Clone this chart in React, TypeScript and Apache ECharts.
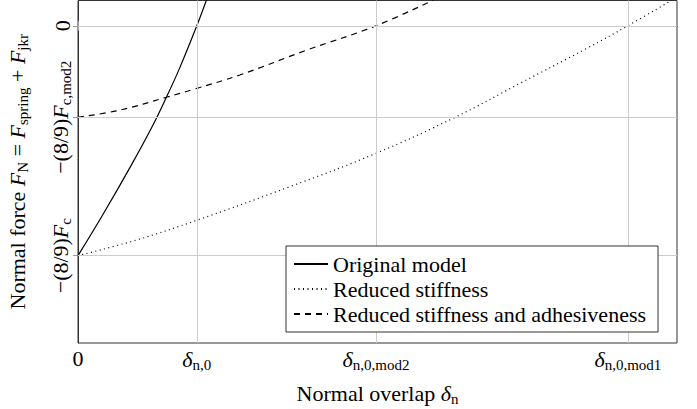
import React, { useEffect, useRef } from "react";
import * as echarts from "echarts";

const xTickValues = [0, 1, 2.508, 4.628];
const xTickLabels = ["0", "{i|δ}{s|n,0}", "{i|δ}{s|n,0,mod2}", "{i|δ}{s|n,0,mod1}"];
const yTickValues = [-1, -0.398, 0];
const yTickLabels = ["−(8/9){i|F}{s|c}", "−(8/9){i|F}{s|c,mod2}", "0"];

const seriesNames = ["Original model", "Reduced stiffness", "Reduced stiffness and adhesiveness"];

const originalX = [0, 0.211, 0.45, 0.618, 0.744, 0.857, 1, 1.081];
const originalY = [-1, -0.82, -0.605, -0.445, -0.311, -0.182, 0, 0.112];

const reducedX = [0, 0.492, 1, 1.783, 2.508, 3.174, 3.721, 4.283, 4.628, 4.999];
const reducedY = [-1, -0.932, -0.846, -0.7, -0.555, -0.398, -0.25, -0.098, 0, 0.112];

const adhesiveX = [0, 0.351, 0.744, 0.969, 1.362, 1.924, 2.508, 2.991];
const adhesiveY = [-0.398, -0.367, -0.311, -0.277, -0.214, -0.106, 0, 0.112];

const X_MIN = 0;
const X_MAX = 5.041;
const Y_MIN = -1.38;
const Y_MAX = 0.11;

const FONT = "Liberation Serif";
const FS = 22;

const zip = (xs: number[], ys: number[]) => xs.map((x, i) => [x, ys[i]]);

const labelFor = (values: number[], labels: string[]) => (v: number) => {
  for (let i = 0; i < values.length; i++) {
    if (Math.abs(values[i] - v) < 1e-6) return labels[i];
  }
  return "";
};

const rich = {
  i: { fontFamily: FONT, fontStyle: "italic", fontSize: FS, color: "#000" },
  s: { fontFamily: FONT, fontSize: 15, color: "#000", padding: [10, 0, 0, 0] },
};

export default function App() {
  const ref = useRef<HTMLDivElement>(null);
  useEffect(() => {
    if (!ref.current) return;
    const chart = echarts.init(ref.current, undefined, { renderer: "svg" });
    const tickStyle = { show: true, inside: true, length: 5, lineStyle: { color: "#999", width: 1 } };
    chart.setOption({
      animation: false,
      backgroundColor: "#fff",
      textStyle: { fontFamily: FONT, color: "#000" },
      grid: {
        left: 78,
        right: 20,
        top: 0.5,
        bottom: 66,
        outerBoundsMode: "none",
        containLabel: false,
        show: true,
        borderColor: "#333",
        borderWidth: 1,
        backgroundColor: "transparent",
      },
      legend: {
        orient: "vertical",
        left: 286,
        top: 246,
        data: seriesNames,
        itemWidth: 34,
        itemHeight: 14,
        itemGap: 3,
        padding: [7, 12, 7, 7],
        borderColor: "#333",
        borderWidth: 1,
        backgroundColor: "#fff",
        itemStyle: { opacity: 0 },
        textStyle: { fontFamily: FONT, fontSize: FS, color: "#000", lineHeight: 22 },
        z: 10,
      },
      xAxis: [
        {
          type: "value",
          min: X_MIN,
          max: X_MAX,
          name: "Normal overlap {i|δ}{s|n}",
          nameLocation: "middle",
          nameGap: 38,
          nameTextStyle: { fontFamily: FONT, fontSize: FS, color: "#000", rich },
          axisLine: { show: true, lineStyle: { color: "#333", width: 1 } },
          axisTick: { ...tickStyle, customValues: xTickValues },
          axisLabel: {
            customValues: xTickValues,
            formatter: labelFor(xTickValues, xTickLabels),
            fontFamily: FONT,
            fontSize: FS,
            color: "#000",
            margin: 4,
            rich,
          },
          splitLine: { show: false },
        },
        {
          type: "value",
          position: "top",
          min: X_MIN,
          max: X_MAX,
          axisLine: { show: false },
          axisTick: { ...tickStyle, customValues: xTickValues },
          axisLabel: { show: false },
          splitLine: { show: false },
        },
      ],
      yAxis: [
        {
          type: "value",
          min: Y_MIN,
          max: Y_MAX,
          name: "Normal force {i|F}{s|N} = {i|F}{s|spring} + {i|F}{s|jkr}",
          nameLocation: "middle",
          nameGap: 48,
          nameRotate: 90,
          nameTextStyle: { fontFamily: FONT, fontSize: FS, color: "#000", rich },
          axisLine: { show: true, lineStyle: { color: "#333", width: 1 } },
          axisTick: { ...tickStyle, customValues: yTickValues },
          axisLabel: {
            customValues: yTickValues,
            formatter: labelFor(yTickValues, yTickLabels),
            rotate: 90,
            fontFamily: FONT,
            fontSize: FS,
            color: "#000",
            margin: 5,
            rich,
          },
          splitLine: { show: false },
        },
        {
          type: "value",
          position: "right",
          min: Y_MIN,
          max: Y_MAX,
          axisLine: { show: false },
          axisTick: { ...tickStyle, customValues: yTickValues },
          axisLabel: { show: false },
          splitLine: { show: false },
        },
      ],
      series: [
        {
          name: "grid",
          type: "line",
          data: [],
          z: 1,
          silent: true,
          markLine: {
            silent: true,
            symbol: ["none", "none"],
            label: { show: false },
            lineStyle: { color: "#ccc", type: "solid", width: 1 },
            data: [
              ...xTickValues.filter((v) => v > 0).map((v) => ({ xAxis: v })),
              ...yTickValues.map((v) => ({ yAxis: v })),
            ],
          },
        },
        {
          name: seriesNames[0],
          type: "line",
          data: zip(originalX, originalY),
          smooth: 0.4,
          symbol: "none",
          z: 3,
          lineStyle: { color: "#000", width: 1.2, type: "solid" },
          itemStyle: { color: "#000" },
        },
        {
          name: seriesNames[1],
          type: "line",
          data: zip(reducedX, reducedY),
          smooth: 0.4,
          symbol: "none",
          z: 3,
          lineStyle: { color: "#000", width: 1.2, type: [1, 3.5] },
          itemStyle: { color: "#000" },
        },
        {
          name: seriesNames[2],
          type: "line",
          data: zip(adhesiveX, adhesiveY),
          smooth: 0.4,
          symbol: "none",
          z: 3,
          lineStyle: { color: "#000", width: 1.2, type: [6, 5] },
          itemStyle: { color: "#000" },
        },
      ],
    });
    return () => chart.dispose();
  }, []);
  return (
    <div
      ref={ref}
      style={{ position: "absolute", left: 0, top: 0, width: 697, height: 409 }}
    />
  );
}
